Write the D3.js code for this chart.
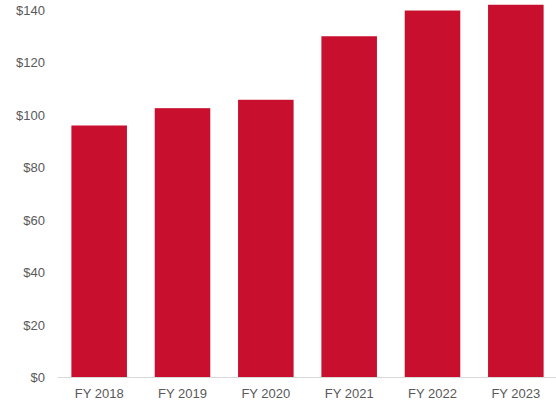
<!DOCTYPE html>
<html>
<head>
<meta charset="utf-8">
<script src="https://cdn.jsdelivr.net/npm/d3@7"></script>
<style>
  html, body { margin: 0; padding: 0; background: #fff; }
  svg { display: block; }
  text { font-family: "Liberation Sans", Arial, sans-serif; }
</style>
</head>
<body>
<svg id="chart" width="556" height="406"></svg>
<script>
const categories = ["FY 2018", "FY 2019", "FY 2020", "FY 2021", "FY 2022", "FY 2023"];
const values = [96, 102.6, 105.8, 130, 139.8, 142];
const yTicks = [0, 20, 40, 60, 80, 100, 120, 140];

const W = 556, H = 406;
const svg = d3.select("#chart");

const x = d3.scaleBand()
  .domain(categories)
  .range([57.5, 557.5])
  .paddingInner(1 / 3)
  .paddingOuter(1 / 6);

const y = d3.scaleLinear()
  .domain([0, 140])
  .range([377.5, 10]);

// bars
svg.append("g")
  .selectAll("rect")
  .data(values)
  .join("rect")
  .attr("x", (d, i) => x(categories[i]))
  .attr("width", x.bandwidth())
  .attr("y", d => y(d))
  .attr("height", d => y(0) - y(d))
  .attr("fill", "#C8102E");

// baseline
svg.append("line")
  .attr("x1", 57.5).attr("x2", W)
  .attr("y1", y(0)).attr("y2", y(0))
  .attr("stroke", "#d9d9d9").attr("stroke-width", 1);

// y axis
const yAxis = d3.axisLeft(y)
  .tickValues(yTicks)
  .tickFormat(d => "$" + d)
  .tickSize(0)
  .tickPadding(0);
const gy = svg.append("g").attr("transform", "translate(45,0)").call(yAxis);
gy.select(".domain").remove();
gy.selectAll("text")
  .attr("fill", "#595959")
  .style("font-size", "13px")
  .style("font-family", "'Liberation Sans', Arial, sans-serif");

// x axis
const xAxis = d3.axisBottom(x).tickSize(0).tickPadding(0);
const gx = svg.append("g").attr("transform", "translate(0,389)").call(xAxis);
gx.select(".domain").remove();
gx.selectAll("text")
  .attr("fill", "#595959")
  .style("font-size", "13px")
  .style("font-family", "'Liberation Sans', Arial, sans-serif");
</script>
</body>
</html>
